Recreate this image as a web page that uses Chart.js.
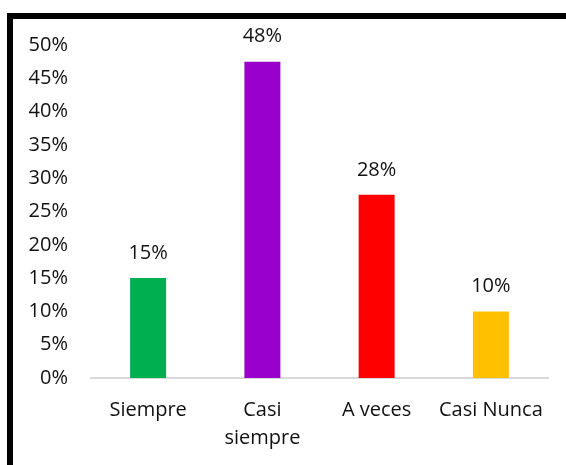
<!DOCTYPE html>
<html>
<head>
<meta charset="utf-8">
<script src="https://cdn.jsdelivr.net/npm/chart.js@4.4.1/dist/chart.umd.min.js"></script>
<style>
  html, body { margin: 0; padding: 0; background: #fff; overflow: hidden; }
  #wrap { position: relative; width: 566px; height: 465px; overflow: hidden; }
  #frame { position: absolute; left: 7px; top: 13px; width: 600px; height: 520px;
           border: 6px solid #000; box-sizing: border-box; }
  #chart { position: absolute; left: 0; top: 0; }
</style>
</head>
<body>
<div id="wrap">
  <div id="frame"></div>
  <canvas id="chart" width="566" height="465"></canvas>
</div>
<script>
// Survey answers, share of respondents (%)
const categories = [['Siempre'], ['Casi', 'siempre'], ['A veces'], ['Casi Nunca']];
const percentages = [15, 47.5, 27.5, 10];
const barColors = ['#00B050', '#9900CC', '#FF0000', '#FFC000'];
const yTicks = [0, 5, 10, 15, 20, 25, 30, 35, 40, 45, 50];

const FONT = "'Open Sans', 'Noto Sans', sans-serif";

// Percentage label above each bar
const valueLabels = {
  id: 'valueLabels',
  afterDatasetsDraw(chart) {
    const ctx = chart.ctx;
    const meta = chart.getDatasetMeta(0);
    ctx.save();
    ctx.font = '20px ' + FONT;
    ctx.fillStyle = '#111';
    ctx.textAlign = 'center';
    ctx.textBaseline = 'middle';
    meta.data.forEach((bar, i) => {
      ctx.fillText(Math.round(percentages[i]) + '%', bar.x, bar.y - 25);
    });
    ctx.restore();
  }
};

new Chart(document.getElementById('chart'), {
  type: 'bar',
  data: {
    labels: categories,
    datasets: [{
      data: percentages,
      backgroundColor: barColors,
      borderWidth: 0,
      categoryPercentage: 1,
      barPercentage: 0.315
    }]
  },
  options: {
    responsive: false,
    animation: false,
    devicePixelRatio: 1,
    layout: { padding: { top: 45, right: 18, bottom: 0, left: 0 } },
    plugins: { legend: { display: false }, tooltip: { enabled: false } },
    scales: {
      x: {
        grid: { display: false, drawTicks: false },
        border: { display: true, color: '#d9d9d9', width: 2 },
        ticks: {
          color: '#111',
          font: { family: FONT, size: 20, lineHeight: 1.4 },
          padding: 18,
          maxRotation: 0,
          autoSkip: false
        },
        afterFit(scale) { scale.height = 87; }
      },
      y: {
        min: 0,
        max: 50,
        grid: { display: false, drawTicks: false },
        border: { display: false },
        afterBuildTicks(scale) { scale.ticks = yTicks.map(v => ({ value: v })); },
        ticks: {
          color: '#111',
          font: { family: FONT, size: 20 },
          padding: 23,
          callback: v => v + '%'
        },
        afterFit(scale) { scale.width = 91; }
      }
    }
  },
  plugins: [valueLabels]
});
</script>
</body>
</html>
